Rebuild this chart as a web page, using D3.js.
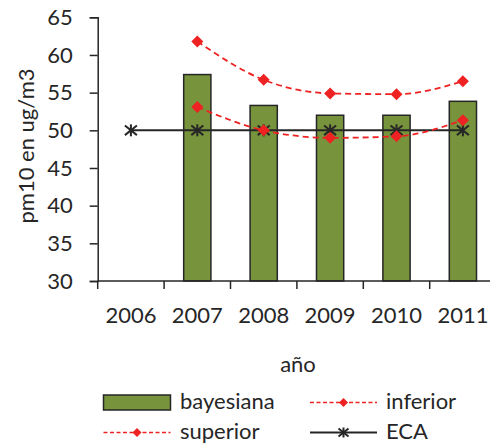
<!DOCTYPE html>
<html><head><meta charset="utf-8">
<script src="https://cdn.jsdelivr.net/npm/d3@7"></script>
<style>body{margin:0;background:#fff;} svg{display:block;font-family:Lato,"Open Sans",sans-serif;}</style>
</head><body>
<script>
const years = ["2006","2007","2008","2009","2010","2011"];
const bayesiana = [null, 57.4, 53.3, 52.0, 52.0, 53.85];
const inferior = [null, 61.8, 56.7, 54.9, 54.8, 56.5];
const superior = [null, 53.1, 50.0, 49.0, 49.2, 51.35];
const eca = [50, 50, 50, 50, 50, 50];
const yTicks = [30, 35, 40, 45, 50, 55, 60, 65];

const W = 490, H = 446, FS = 22;
const svg = d3.select("body").append("svg").attr("width", W).attr("height", H);
const pLeft = 97.7, plotW = 6 * 66.4, pTop = 17.3, pBottom = 281;
const x = d3.scaleBand().domain(years).range([pLeft, pLeft + plotW]).paddingInner(0.59).paddingOuter(0.295);
const xc = d3.scalePoint().domain(years).range([pLeft + 33.2, pLeft + plotW - 33.2]);
const y = d3.scaleLinear().domain([30, 65]).range([pBottom, pTop]);

// bars
svg.append("g").selectAll("rect").data(years.map((d, i) => ({ d, v: bayesiana[i] })).filter(o => o.v != null))
  .join("rect").attr("x", o => x(o.d)).attr("width", x.bandwidth())
  .attr("y", o => y(o.v)).attr("height", o => y(30) - y(o.v))
  .attr("fill", "#77933C").attr("stroke", "#262626").attr("stroke-width", 1.5);

// axes
const yAxis = svg.append("g").attr("transform", `translate(${pLeft},0)`)
  .call(d3.axisLeft(y).tickValues(yTicks).tickSize(8).tickPadding(17));
yAxis.select(".domain").attr("stroke", "#262626").attr("stroke-width", 1.5);
yAxis.selectAll(".tick line").attr("stroke", "#262626").attr("stroke-width", 1.5);
yAxis.selectAll("text").attr("font-size", FS).attr("fill", "#262626").attr("font-family", "Lato");

const xAxis = svg.append("g").attr("transform", `translate(0,${pBottom})`)
  .call(d3.axisBottom(x).tickSize(0).tickPadding(26));
xAxis.select(".domain").attr("stroke", "#262626").attr("stroke-width", 1.5).attr("d", `M${pLeft},0H${pLeft + plotW}`);
xAxis.selectAll("text").attr("font-size", FS).attr("fill", "#262626").attr("font-family", "Lato");
// category boundary ticks
svg.append("g").selectAll("line").data(d3.range(0, 7)).join("line")
  .attr("x1", i => pLeft + i * x.step()).attr("x2", i => pLeft + i * x.step())
  .attr("y1", pBottom).attr("y2", pBottom + 8).attr("stroke", "#262626").attr("stroke-width", 1.5);

// ECA line
const ser = arr => years.map((d, i) => ({ d, v: arr[i] }));
const straight = d3.line().defined(d => d.v != null).x(d => xc(d.d)).y(d => y(d.v));
const smooth = d3.line().defined(d => d.v != null).x(d => xc(d.d)).y(d => y(d.v)).curve(d3.curveMonotoneX);
svg.append("path").datum(ser(eca)).attr("d", straight).attr("fill", "none").attr("stroke", "#262626").attr("stroke-width", 2);

function star(g, cx, cy, r) {
  const pts = [[-r, -r * 0.8, r, r * 0.8], [-r, r * 0.8, r, -r * 0.8], [0, -r, 0, r]];
  pts.forEach(p => g.append("line").attr("x1", cx + p[0]).attr("y1", cy + p[1]).attr("x2", cx + p[2]).attr("y2", cy + p[3])
    .attr("stroke", "#262626").attr("stroke-width", 2));
}
const eg = svg.append("g");
ser(eca).forEach(o => star(eg, xc(o.d), y(o.v), 6));

// red dashed lines
[inferior, superior].forEach(arr => {
  svg.append("path").datum(ser(arr)).attr("d", smooth).attr("fill", "none")
    .attr("stroke", "#EE2222").attr("stroke-width", 1.8).attr("stroke-dasharray", "6,4");
  svg.append("g").selectAll("path").data(ser(arr).filter(o => o.v != null)).join("path")
    .attr("d", "M0,-6L6,0L0,6L-6,0Z").attr("transform", o => `translate(${xc(o.d)},${y(o.v)})`)
    .attr("fill", "#EE2222");
});

// axis titles
svg.append("text").attr("transform", "translate(34,146) rotate(-90)").attr("text-anchor", "middle")
  .attr("font-size", FS).attr("fill", "#262626").text("pm10 en ug/m3");
svg.append("text").attr("x", 298).attr("y", 372).attr("text-anchor", "middle")
  .attr("font-size", FS).attr("fill", "#262626").text("año");

// legend
const lg = svg.append("g").attr("font-size", FS).attr("fill", "#262626");
lg.append("rect").attr("x", 103.5).attr("y", 395).attr("width", 67).attr("height", 15)
  .attr("fill", "#77933C").attr("stroke", "#262626").attr("stroke-width", 1.5);
lg.append("text").attr("x", 180).attr("y", 409).text("bayesiana");
function redKey(x0, cy) {
  lg.append("line").attr("x1", x0).attr("x2", x0 + 67).attr("y1", cy).attr("y2", cy)
    .attr("stroke", "#EE2222").attr("stroke-width", 1.3).attr("stroke-dasharray", "4,2.5");
  lg.append("path").attr("d", "M0,-4.5L4.5,0L0,4.5L-4.5,0Z").attr("transform", `translate(${x0 + 33.5},${cy})`).attr("fill", "#EE2222");
}
redKey(310, 402.5);
lg.append("text").attr("x", 386).attr("y", 409).text("inferior");
redKey(103.5, 432.5);
lg.append("text").attr("x", 180).attr("y", 439).text("superior");
lg.append("line").attr("x1", 310).attr("x2", 377).attr("y1", 432.5).attr("y2", 432.5).attr("stroke", "#262626").attr("stroke-width", 2);
star(lg, 343.5, 432.5, 5);
lg.append("text").attr("x", 386).attr("y", 439).text("ECA");
</script>
</body></html>
